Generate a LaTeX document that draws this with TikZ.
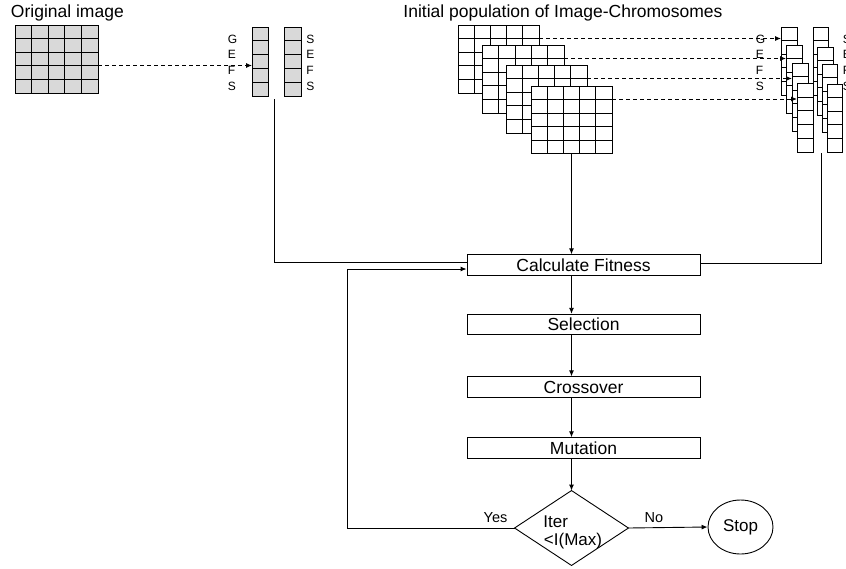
\documentclass[tikz,border=0pt]{standalone}
\usepackage{fontspec}
\setmainfont{Liberation Sans}
\usetikzlibrary{calc,arrows.meta,shapes.geometric}
\definecolor{cellgray}{RGB}{217,217,217}
\tikzset{
  arr/.style={-{Latex[length=6pt,width=5pt]}},
  dasharrow/.style={dash pattern=on 4pt off 3pt, -{Latex[length=6pt,width=5pt]}},
  cellgrid/.style n args={4}{draw, inner sep=0pt, outer sep=0pt, anchor=north west,
    minimum width=#3pt, minimum height=#4pt,
    path picture={
      \foreach \k in {1,...,#1}{\draw ($(path picture bounding box.south west)!{\k/#1}!(path picture bounding box.south east)$) -- ($(path picture bounding box.north west)!{\k/#1}!(path picture bounding box.north east)$);}
      \foreach \k in {1,...,#2}{\draw ($(path picture bounding box.south west)!{\k/#2}!(path picture bounding box.north west)$) -- ($(path picture bounding box.south east)!{\k/#2}!(path picture bounding box.north east)$);}
    }},
  stepbox/.style={draw, minimum width=233pt, minimum height=20.5pt, inner sep=0pt,
    font=\fontsize{17.5}{20}\selectfont},
  titletext/.style={font=\fontsize{17.5}{20}\selectfont, inner sep=0pt, anchor=base west},
  lbl/.style={font=\fontsize{12}{12}\selectfont, inner sep=0pt, anchor=west},
  yn/.style={font=\fontsize{14.5}{16}\selectfont, inner sep=0pt},
  dtext/.style={font=\fontsize{17}{18}\selectfont, inner sep=0pt, anchor=base west},
}
\begin{document}
\begin{tikzpicture}[x=1pt,y=-1pt,line width=0.9pt]
\useasboundingbox (0,0) rectangle (846,568);

% titles
\node[titletext] (t1) at (10.5,17.5) {Original image};
\node[titletext] (t2) at (403,17.5) {Initial population of Image-Chromosomes};

% original image
\node[cellgrid={5}{5}{83}{68}, fill=cellgray] (orig) at (15,25) {};
% chromosome columns
\node[cellgrid={1}{5}{16.5}{69}, fill=cellgray] (c1) at (252,27) {};
\node[cellgrid={1}{5}{16.5}{69}, fill=cellgray] (c2) at (284.5,27) {};
\foreach \t/\yy [count=\i] in {G/39,E/54,F/70,S/86}
  \node[lbl] (la\i) at (227.5,\yy) {\t};
\foreach \t/\yy [count=\i] in {S/39,E/54,F/70,S/86}
  \node[lbl] (lb\i) at (306,\yy) {\t};

% population of grids
\node[cellgrid={5}{5}{81}{68}, fill=white] (g1) at (458,25) {};
\node[cellgrid={5}{5}{81.5}{68}, fill=white] (g2) at (482.5,45) {};
\node[cellgrid={5}{5}{80.5}{68}, fill=white] (g3) at (506.5,65) {};
\node[cellgrid={5}{5}{81}{67.5}, fill=white] (g4) at (531,86) {};

% right chromosome stacks
\node[cellgrid={1}{5}{16}{68}, fill=white] (ca) at (781,27) {};
\node[cellgrid={1}{5}{16}{68}, fill=white] (cb) at (786,45) {};
\node[cellgrid={1}{5}{16}{68}, fill=white] (cc) at (792,63) {};
\node[cellgrid={1}{5}{16}{68.5}, fill=white] (cd) at (797,83.5) {};
\node[cellgrid={1}{5}{15.5}{68}, fill=white] (da) at (813,27) {};
\node[cellgrid={1}{5}{15.5}{68}, fill=white] (db) at (817.5,47) {};
\node[cellgrid={1}{5}{15.5}{68}, fill=white] (dc) at (822,64) {};
\node[cellgrid={1}{5}{15.5}{68}, fill=white] (dd) at (827,84) {};
\foreach \t/\yy [count=\i] in {G/39,E/54,F/70,S/86}
  \node[lbl] (lc\i) at (755.5,\yy) {\t};
\foreach \t/\yy [count=\i] in {S/39,E/54,F/70,S/86}
  \node[lbl] (ld\i) at (842.5,\yy) {\t};

% dashed arrows
\draw[dasharrow] (orig.east |- 0,65.5) -- (c1.west |- 0,65.5);
\draw[dasharrow] (g1.east |- 0,38.5) -- (ca.west |- 0,38.5);
\draw[dasharrow] (g2.east |- 0,58.5) -- (cb.west |- 0,58.5);
\draw[dasharrow] (g3.east |- 0,78.5) -- (cc.west |- 0,78.5);
\draw[dasharrow] (g4.east |- 0,99) -- (cd.west |- 0,99);

% flow boxes
\node[stepbox] (fit) at (583.5,265) {Calculate Fitness};
\node[stepbox] (sel) at (583.5,324.5) {Selection};
\node[stepbox] (cro) at (583.5,387) {Crossover};
\node[stepbox] (mut) at (583.5,448) {Mutation};

% decision
\node[minimum width=113pt, minimum height=74pt, inner sep=0pt] (dia) at (571.5,528) {};
\draw (dia.north) -- (dia.east) -- (dia.south) -- (dia.west) -- cycle;
\node[dtext] (dt1) at (543,527) {Iter};
\node[dtext] (dt2) at (543.5,545) {<I(Max)};

\node[ellipse, draw, minimum width=65pt, minimum height=54pt, inner sep=0pt,
  font=\fontsize{17}{20}\selectfont] (stop) at (740.5,527) {Stop};

% connectors
\coordinate (lt) at (274,99);
\coordinate (rt) at (821,153);
\coordinate (fb) at (347,269);
\draw (lt) |- (fit.west |- 0,262);
\draw (rt) |- (fit.east |- 0,263);
\draw[arr] (g4.south -| dia.north) -- (fit.north -| dia.north);
\draw[arr] (fit.south -| dia.north) -- (sel.north -| dia.north);
\draw[arr] (sel.south -| dia.north) -- (cro.north -| dia.north);
\draw[arr] (cro.south -| dia.north) -- (mut.north -| dia.north);
\draw[arr] (mut.south -| dia.north) -- (dia.north);
\draw[arr] (dia.west) -| (fb) -- (fit.west |- fb);
\draw[arr] (dia.east) -- (stop.west);
\node[yn] (yes) at (495.5,518) {Yes};
\node[yn] (no) at (654,517.5) {No};
\end{tikzpicture}
\end{document}
